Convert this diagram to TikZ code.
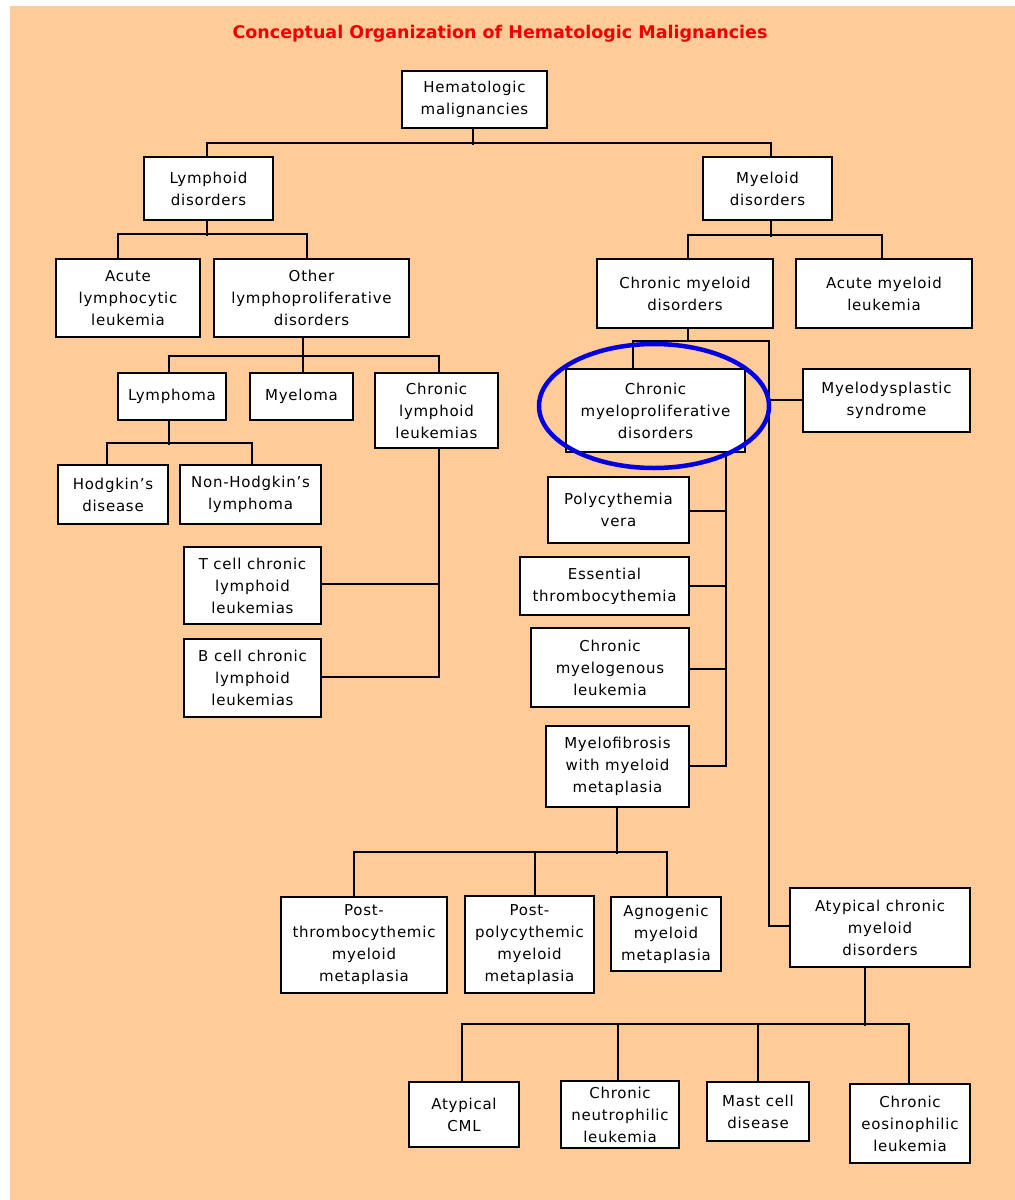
\documentclass[tikz,border=0pt]{standalone}
\usepackage{fontspec}
\setmainfont[LetterSpace=5]{DejaVu Sans}
\newfontfamily\titlefont{DejaVu Sans}
\definecolor{peach}{RGB}{255,203,153}
\definecolor{ttlred}{RGB}{240,0,0}
\definecolor{ringblue}{RGB}{0,0,225}
\tikzset{
  box/.style={draw=black, fill=white, line width=2pt, inner sep=0pt, align=center,
    font=\fontsize{15}{22}\selectfont},
  link/.style={draw=black, line width=2pt},
  ring/.style={draw=ringblue, line width=4.5pt}
}
\begin{document}
\begin{tikzpicture}[x=1pt, y=-1pt]
\useasboundingbox (0,0) rectangle (1015,1200);
\fill[white] (0,0) rectangle (1015,1200);
\fill[peach] (10,6) rectangle (1015,1200);
\node[text=ttlred, font=\titlefont\bfseries\fontsize{17.5}{20}\selectfont] (title) at (500,34) {Conceptual Organization of Hematologic Malignancies};
% boxes
\node[box, minimum width=145pt, minimum height=57pt] (hm) at (474.5,99.5) {Hematologic\\malignancies};
\node[box, minimum width=129pt, minimum height=63pt] (lym) at (208.5,188.5) {Lymphoid\\disorders};
\node[box, minimum width=129pt, minimum height=63pt] (mye) at (767.5,188.5) {Myeloid\\disorders};
\node[box, minimum width=144pt, minimum height=78pt] (all) at (128,298) {Acute\\lymphocytic\\leukemia};
\node[box, minimum width=195pt, minimum height=78pt] (olp) at (311.5,298) {Other\\lymphoproliferative\\disorders};
\node[box, minimum width=108pt, minimum height=47pt] (lyma) at (172,396.5) {Lymphoma};
\node[box, minimum width=103pt, minimum height=47pt] (myeloma) at (301.5,396.5) {Myeloma};
\node[box, minimum width=123pt, minimum height=75pt] (cll) at (436.5,410.5) {Chronic\\lymphoid\\leukemias};
\node[box, minimum width=110pt, minimum height=59pt] (hod) at (113,494.5) {Hodgkin's\\disease};
\node[box, minimum width=141pt, minimum height=59pt] (nhl) at (250.5,494.5) {Non-Hodgkin's\\lymphoma};
\node[box, minimum width=137pt, minimum height=77pt] (tcell) at (252.5,585.5) {T cell chronic\\lymphoid\\leukemias};
\node[box, minimum width=137pt, minimum height=78pt] (bcell) at (252.5,678) {B cell chronic\\lymphoid\\leukemias};
\node[box, minimum width=176pt, minimum height=69pt] (cmd) at (685,293.5) {Chronic myeloid\\disorders};
\node[box, minimum width=176pt, minimum height=69pt] (aml) at (884,293.5) {Acute myeloid\\leukemia};
\node[box, minimum width=179pt, minimum height=83pt] (cmpd) at (655.5,410.5) {Chronic\\myeloproliferative\\disorders};
\node[box, minimum width=167pt, minimum height=63pt] (mds) at (886.5,400.5) {Myelodysplastic\\syndrome};
\node[box, minimum width=141pt, minimum height=66pt] (pv) at (618.5,510) {Polycythemia\\vera};
\node[box, minimum width=169pt, minimum height=58pt] (et) at (604.5,586) {Essential\\thrombocythemia};
\node[box, minimum width=158pt, minimum height=79pt] (cml) at (610,667.5) {Chronic\\myelogenous\\leukemia};
\node[box, minimum width=143pt, minimum height=81pt] (mf) at (617.5,766.5) {Myelofibrosis\\with myeloid\\metaplasia};
\node[box, minimum width=166pt, minimum height=96pt] (ptm) at (364,945) {Post-\\thrombocythemic\\myeloid\\metaplasia};
\node[box, minimum width=129pt, minimum height=97pt] (ppm) at (529.5,944.5) {Post-\\polycythemic\\myeloid\\metaplasia};
\node[box, minimum width=110pt, minimum height=74pt] (agm) at (666,934) {Agnogenic\\myeloid\\metaplasia};
\node[box, minimum width=180pt, minimum height=79pt] (acmd) at (880,927.5) {Atypical chronic\\myeloid\\disorders};
\node[box, minimum width=110pt, minimum height=65pt] (acml) at (464,1114.5) {Atypical\\CML};
\node[box, minimum width=118pt, minimum height=67pt] (cnl) at (620,1114.5) {Chronic\\neutrophilic\\leukemia};
\node[box, minimum width=102pt, minimum height=59pt] (mcd) at (758,1111.5) {Mast cell\\disease};
\node[box, minimum width=120pt, minimum height=79pt] (cel) at (910,1123.5) {Chronic\\eosinophilic\\leukemia};
% connectors
\begin{scope}[link]
\draw ([xshift=-1.5pt]hm.south) -- ++(0,16);
\draw ([xshift=-1.5pt]lym.north) -- ++(0,-13) -| ([xshift=3.5pt]mye.north);
\draw ([xshift=-1.5pt]lym.south) -- ++(0,15);
\draw ([xshift=-10pt]all.north) -- ++(0,-24) -| ([xshift=-4.5pt]olp.north);
\draw ([xshift=-8.5pt]olp.south) -- ([xshift=1.5pt]myeloma.north);
\draw ([xshift=-3pt]lyma.north) -- ++(0,-16) -| ([xshift=2.5pt]cll.north);
\draw ([xshift=-3pt]lyma.south) -- ++(0,24);
\draw ([xshift=-6pt]hod.north) -- ++(0,-21) -| ([xshift=1.5pt]nhl.north);
\coordinate (cllx) at ([xshift=2.5pt]cll.south);
\draw (cllx) |- ([yshift=1pt]bcell.east);
\draw ([yshift=1.5pt]tcell.east) -- ([yshift=1.5pt]tcell.east -| cllx);
\draw ([xshift=3.5pt]mye.south) -- ++(0,16);
\draw ([xshift=3pt]cmd.north) -- ++(0,-23) -| ([xshift=-2pt]aml.north);
\draw ([xshift=3pt]cmd.south) -- ++(0,13);
\coordinate (trunk) at (769,341);
\draw ([xshift=-22.5pt]cmpd.north) |- (trunk) |- ([yshift=1.5pt]acmd.west);
\draw ([yshift=0.5pt]mds.west) -- ([yshift=0.5pt]mds.west -| trunk);
\coordinate (cx) at ([xshift=70.5pt]cmpd.south);
\draw (cx) |- ([yshift=0.5pt]mf.east);
\draw ([yshift=-1pt]pv.east) -- ([yshift=-1pt]pv.east -| cx);
\draw (et.east) -- (et.east -| cx);
\draw ([yshift=-1.5pt]cml.east) -- ([yshift=-1.5pt]cml.east -| cx);
\draw ([xshift=-0.5pt]mf.south) -- ++(0,46);
\draw ([xshift=-10pt]ptm.north) -- ++(0,-44) -| ([xshift=1pt]agm.north);
\draw ([xshift=5.5pt]ppm.north) -- ++(0,-43);
\draw ([xshift=-15pt]acmd.south) -- ++(0,58);
\draw ([xshift=-2pt]acml.north) -- ++(0,-57) -| ([xshift=-1pt]cel.north);
\draw ([xshift=-2pt]cnl.north) -- ++(0,-56);
\draw (mcd.north) -- ++(0,-57);
\end{scope}
\draw[ring] (654,406) ellipse [x radius=115, y radius=62];
\end{tikzpicture}
\end{document}
